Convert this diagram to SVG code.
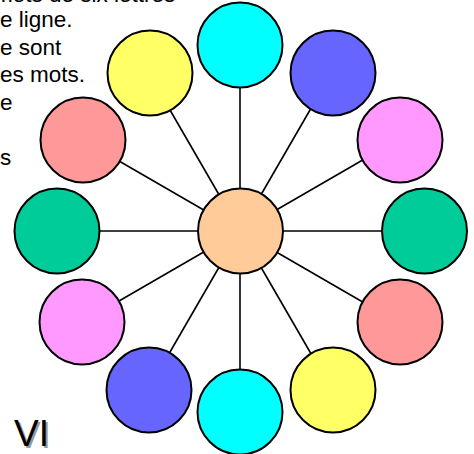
<svg xmlns="http://www.w3.org/2000/svg" width="474" height="454" viewBox="0 0 474 454">
<style>
.t{font-family:"Liberation Sans",Arial,sans-serif;font-size:22.5px;fill:#000}
.c{stroke:#000;stroke-width:2}
.ln{stroke:#000;stroke-width:1.6}
.vi{font-family:"Liberation Sans",Arial,sans-serif;font-size:37px}
</style>
<rect width="474" height="454" fill="#fff"/>
<g id="text">
<text class="t" x="-6" y="2">mots de six lettres</text>
<text class="t" x="0" y="27">e ligne.</text>
<text class="t" x="0" y="54.5">e sont</text>
<text class="t" x="0" y="82">es mots.</text>
<text class="t" x="0" y="109.5">e</text>
<text class="t" x="0" y="164.5">s</text>
</g>
<g id="connectors">
<line class="ln" x1="240" y1="231" x2="240" y2="47"/>
<line class="ln" x1="240" y1="231" x2="332" y2="72"/>
<line class="ln" x1="240" y1="231" x2="399" y2="139"/>
<line class="ln" x1="240" y1="231" x2="424" y2="231"/>
<line class="ln" x1="240" y1="231" x2="399" y2="323"/>
<line class="ln" x1="240" y1="231" x2="332" y2="390"/>
<line class="ln" x1="240" y1="231" x2="240" y2="412"/>
<line class="ln" x1="240" y1="231" x2="148" y2="390"/>
<line class="ln" x1="240" y1="231" x2="81" y2="323"/>
<line class="ln" x1="240" y1="231" x2="57" y2="231"/>
<line class="ln" x1="240" y1="231" x2="81" y2="139"/>
<line class="ln" x1="240" y1="231" x2="148" y2="72"/>
</g>
<g id="center"><circle class="c" cx="240.5" cy="231" r="42.5" fill="#FFCC99"/></g>
<g id="n1"><circle class="c" cx="240" cy="45" r="42.5" fill="#00FFFF"/></g>
<g id="n2"><circle class="c" cx="333" cy="73" r="42.5" fill="#6666FF"/></g>
<g id="n3"><circle class="c" cx="400" cy="140" r="42.5" fill="#FF99FF"/></g>
<g id="n4"><circle class="c" cx="424.5" cy="231" r="42.5" fill="#00CC99"/></g>
<g id="n5"><circle class="c" cx="400" cy="322" r="42.5" fill="#FF9999"/></g>
<g id="n6"><circle class="c" cx="333" cy="390" r="42.5" fill="#FFFF66"/></g>
<g id="n7"><circle class="c" cx="240" cy="412" r="42.5" fill="#00FFFF"/></g>
<g id="n8"><circle class="c" cx="149" cy="390" r="42.5" fill="#6666FF"/></g>
<g id="n9"><circle class="c" cx="82" cy="322" r="42.5" fill="#FF99FF"/></g>
<g id="n10"><circle class="c" cx="57" cy="231" r="42.5" fill="#00CC99"/></g>
<g id="n11"><circle class="c" cx="83" cy="140" r="42.5" fill="#FF9999"/></g>
<g id="n12"><circle class="c" cx="150" cy="73" r="42.5" fill="#FFFF66"/></g>
<g id="vi">
<text class="vi" x="16" y="448" fill="#999">VI</text>
<text class="vi" x="14" y="446" fill="#000">VI</text>
</g>
</svg>
